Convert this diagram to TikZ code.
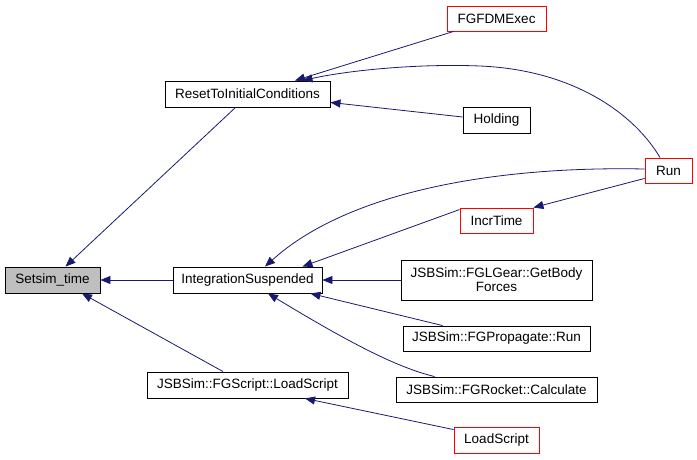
\documentclass[tikz,border=0pt]{standalone}
\usepackage{fontspec}
\setmainfont{Liberation Sans}
\usepackage{tikz}
\usetikzlibrary{arrows.meta, positioning, calc}
\definecolor{edgeblue}{RGB}{25, 25, 112}
\definecolor{boxgray}{RGB}{191, 191, 191}
\definecolor{callred}{RGB}{255, 0, 0}

\tikzset{
    fnbox/.style={draw=black, line width=0.9pt, rectangle, inner sep=0pt, align=center,
        font=\fontsize{13.5}{14}\selectfont},
    redbox/.style={fnbox, draw=callred},
    edge/.style={draw=edgeblue, line width=0.8pt, -{Triangle[length=10pt, width=8pt]}}
}

\begin{document}
\begin{tikzpicture}[x=1pt, y=-1pt]
        \useasboundingbox (0,0) rectangle (697,459);

        \node[fnbox, fill=boxgray, minimum width=95pt, minimum height=26pt] (setsim) at (52.5,280) {Setsim\_time};
        \node[fnbox, minimum width=165pt, minimum height=26pt] (reset) at (247.5,94) {ResetToInitialConditions};
        \node[fnbox, minimum width=149pt, minimum height=26pt] (integ) at (247.5,280) {IntegrationSuspended};
        \node[fnbox, minimum width=201pt, minimum height=26pt] (fgscript) at (247.5,385) {JSBSim::FGScript::LoadScript};

        \node[redbox, minimum width=99pt, minimum height=25pt] (fdmexec) at (496.5,18.5) {FGFDMExec};
        \node[fnbox, minimum width=67pt, minimum height=26pt] (holding) at (496.5,120) {Holding};
        \node[redbox, minimum width=73pt, minimum height=25pt] (incr) at (496.5,220.5) {IncrTime};
        \node[fnbox, minimum width=191pt, minimum height=40pt] (gear) at (496.5,280) {JSBSim::FGLGear::GetBody\\Forces};
        \node[fnbox, minimum width=187pt, minimum height=25pt] (prop) at (496.5,338.5) {JSBSim::FGPropagate::Run};
        \node[fnbox, minimum width=201pt, minimum height=25pt] (rocket) at (496.5,389.5) {JSBSim::FGRocket::Calculate};
        \node[redbox, minimum width=85pt, minimum height=26pt] (loadscript) at (496.5,440) {LoadScript};

        \node[redbox, minimum width=47pt, minimum height=25pt] (run) at (668.5,170.5) {Run};

        % callers of Setsim_time
        \draw[edge] ($(reset.south)+(-12,0)$) -- ($(setsim.north)+(13,0)$);
        \draw[edge] (integ.west) -- (setsim.east);
        \draw[edge] ($(fgscript.north)+(-24.5,0)$) -- ($(setsim.south)+(29.5,0)$);

        % callers of ResetToInitialConditions
        \draw[edge] ($(fdmexec.south west)+(7,0)$) -- ($(reset.north)+(47.5,0)$);
        \draw[edge] ($(run.north)+(-8.5,0)$) .. controls (635,115) and (575,70) .. (480,66)
            .. controls (420,63.5) and (350,70) .. ($(reset.north)+(55,0)$);
        \draw[edge] ($(holding.west)+(0,-3)$) -- ($(reset.south east)+(0,-5)$);

        % callers of IntegrationSuspended
        \draw[edge] ($(run.west)+(0,-1.5)$) .. controls (500,166) and (350,190) .. ($(integ.north)+(17.5,0)$);
        \draw[edge] ($(incr.north west)+(0,2)$) -- ($(integ.north east)+(-20,0)$);
        \draw[edge] (gear.west) -- (integ.east);
        \draw[edge] ($(prop.north west)+(40,0)$) -- ($(integ.south east)+(-12,0)$);
        \draw[edge] ($(rocket.north west)+(39,0)$) .. controls (395,367) and (345,340) .. ($(integ.south)+(20.5,0)$);

        \draw[edge] ($(run.south west)+(0,-5)$) -- (incr.north east);
        \draw[edge] ($(loadscript.north west)+(0,3)$) -- ($(fgscript.south)+(57.5,0)$);
    \end{tikzpicture}
\end{document}
